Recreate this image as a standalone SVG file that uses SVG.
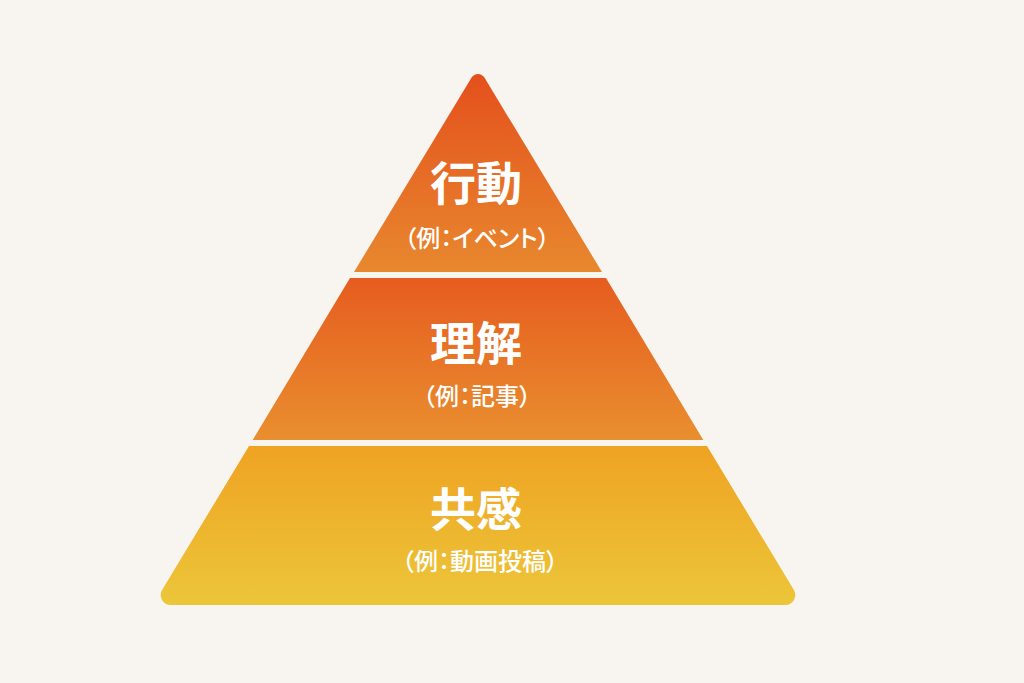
<svg xmlns="http://www.w3.org/2000/svg" width="1024" height="683" viewBox="0 0 1024 683">
  <defs>
    <linearGradient id="g1" x1="0" y1="0" x2="0" y2="1">
      <stop offset="0" stop-color="#e4501c"/>
      <stop offset="1" stop-color="#e8882e"/>
    </linearGradient>
    <linearGradient id="g2" x1="0" y1="0" x2="0" y2="1">
      <stop offset="0" stop-color="#e65c1f"/>
      <stop offset="1" stop-color="#e98f2f"/>
    </linearGradient>
    <linearGradient id="g3" x1="0" y1="0" x2="0" y2="1">
      <stop offset="0" stop-color="#efa322"/>
      <stop offset="1" stop-color="#ecc63a"/>
    </linearGradient>
  </defs>
  <style>
    .title { font-family: "Noto Sans CJK JP", "Noto Sans CJK SC", sans-serif; font-weight: 700; font-size: 46px; fill: #ffffff; text-anchor: middle; }
    .sub { font-family: "Noto Sans CJK JP", "Noto Sans CJK SC", sans-serif; font-weight: 500; font-size: 24px; fill: #ffffff; text-anchor: middle; font-feature-settings: "palt"; }
  </style>
  <rect x="0" y="0" width="1024" height="683" fill="#f8f5f1"/>
  <g id="tier-action">
    <path d="M471.6,77.6 A7.5,7.5 0 0 1 484.4,77.6 L602,272 L354,272 Z" fill="url(#g1)"/>
    <text class="title" x="476" y="200">行動</text>
    <text class="sub" x="477" y="247">（例：イベント）</text>
  </g>
  <g id="tier-understanding">
    <path d="M350,278 L606,278 L703.3,440 L252.7,440 Z" fill="url(#g2)"/>
    <text class="title" x="476" y="360">理解</text>
    <text class="sub" x="477" y="405">（例：記事）</text>
  </g>
  <g id="tier-empathy">
    <path d="M249,446 L707,446 L793.8,589.8 A10,10 0 0 1 785.3,605 L170.7,605 A10,10 0 0 1 162.2,589.8 Z" fill="url(#g3)"/>
    <text class="title" x="476" y="526">共感</text>
    <text class="sub" x="480" y="570">（例：動画投稿）</text>
  </g>
  <g id="connectors"/>
</svg>
